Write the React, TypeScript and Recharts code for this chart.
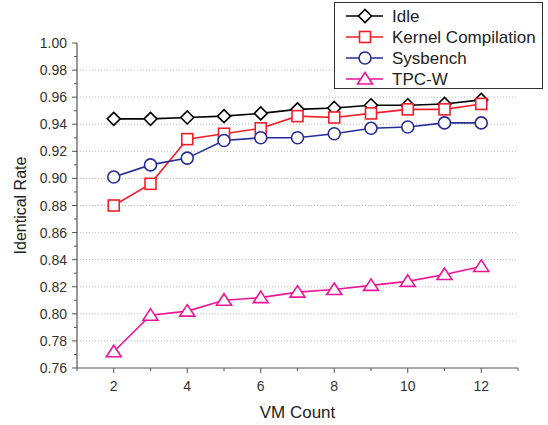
import React from 'react';
import { LineChart, Line, XAxis, YAxis, CartesianGrid, Label } from 'recharts';

const vmCounts = [2, 3, 4, 5, 6, 7, 8, 9, 10, 11, 12];
const idleRate = [0.944, 0.944, 0.945, 0.946, 0.948, 0.951, 0.952, 0.954, 0.954, 0.955, 0.958];
const kernelRate = [0.880, 0.896, 0.929, 0.933, 0.937, 0.946, 0.945, 0.948, 0.951, 0.951, 0.955];
const sysbenchRate = [0.901, 0.910, 0.915, 0.928, 0.930, 0.930, 0.933, 0.937, 0.938, 0.941, 0.941];
const tpcwRate = [0.772, 0.799, 0.802, 0.810, 0.812, 0.816, 0.818, 0.821, 0.824, 0.829, 0.835];

const xTicks = [1, 2, 3, 4, 5, 6, 7, 8, 9, 10, 11, 12, 13];
const yTicks = [0.76, 0.77, 0.78, 0.79, 0.8, 0.81, 0.82, 0.83, 0.84, 0.85, 0.86, 0.87, 0.88, 0.89, 0.9,
  0.91, 0.92, 0.93, 0.94, 0.95, 0.96, 0.97, 0.98, 0.99, 1.0];
const gridValues = [0.78, 0.8, 0.82, 0.84, 0.86, 0.88, 0.9, 0.92, 0.94, 0.96, 0.98];

const series = [
  { key: 'idle', name: 'Idle', color: '#000000', shape: 'diamond' },
  { key: 'kernel', name: 'Kernel Compilation', color: '#f01e28', shape: 'square' },
  { key: 'sysbench', name: 'Sysbench', color: '#262d96', shape: 'circle' },
  { key: 'tpcw', name: 'TPC-W', color: '#ee1496', shape: 'triangle' },
];

const data = vmCounts.map((vm, i) => ({
  vm,
  idle: idleRate[i],
  kernel: kernelRate[i],
  sysbench: sysbenchRate[i],
  tpcw: tpcwRate[i],
}));

const AXIS = '#555';
const FONT = 'Arial, "Liberation Sans", sans-serif';

const Marker = ({ cx, cy, shape, color }: any) => {
  const common = { fill: '#fff', stroke: color, strokeWidth: 1.6 };
  if (shape === 'diamond') {
    const r = 6.5;
    return <polygon points={`${cx},${cy - r} ${cx + r},${cy} ${cx},${cy + r} ${cx - r},${cy}`} {...common} />;
  }
  if (shape === 'square') {
    return <rect x={cx - 5.5} y={cy - 5.5} width={11} height={11} {...common} />;
  }
  if (shape === 'circle') {
    return <circle cx={cx} cy={cy} r={6} {...common} />;
  }
  return <polygon points={`${cx},${cy - 6.5} ${cx + 7.5},${cy + 5} ${cx - 7.5},${cy + 5}`} {...common} />;
};

const dotFor = (shape: string, color: string) => (props: any) =>
  <Marker key={`${shape}-${props.index}`} cx={props.cx} cy={props.cy} shape={shape} color={color} />;

const YTick = ({ x, y, payload }: any) => {
  const major = Math.round(payload.value * 100) % 2 === 0;
  return (
    <g>
      <line x1={x - (major ? 5 : 3)} x2={x} y1={y} y2={y} stroke={AXIS} strokeWidth={1} />
      {major && (
        <text x={x - 10} y={y + 5} textAnchor="end" fontSize={14} fill="#333" fontFamily={FONT}>
          {payload.value.toFixed(2)}
        </text>
      )}
    </g>
  );
};

const XTick = ({ x, y, payload }: any) => {
  const major = payload.value % 2 === 0;
  return (
    <g>
      <line x1={x} x2={x} y1={y} y2={y + (major ? 5 : 3)} stroke={AXIS} strokeWidth={1} />
      {major && (
        <text x={x} y={y + 23} textAnchor="middle" fontSize={14} fill="#333" fontFamily={FONT}>
          {payload.value}
        </text>
      )}
    </g>
  );
};

const LegendBox = () => (
  <div style={{ position: 'absolute', left: 334, top: 2, width: 209, height: 87, border: '1px solid #333',
    background: '#fff', boxSizing: 'border-box' }}>
    <svg width={207} height={85} style={{ display: 'block' }}>
      {series.map((s, i) => {
        const y = 13 + i * 21;
        return (
          <g key={s.key}>
            <line x1={11} x2={48} y1={y} y2={y} stroke={s.color} strokeWidth={1.6} />
            <Marker cx={30} cy={y} shape={s.shape} color={s.color} />
            <text x={57} y={y + 6} fontSize={17} fill="#222" fontFamily={FONT}>{s.name}</text>
          </g>
        );
      })}
    </svg>
  </div>
);

export default function App() {
  return (
    <div style={{ position: 'absolute', left: 0, top: 0, width: 548, height: 425, background: '#fff' }}>
      <LineChart width={548} height={425} data={data} margin={{ top: 43, right: 30, left: 0, bottom: 0 }}>
        <CartesianGrid horizontal vertical={false} horizontalValues={gridValues}
          stroke="#bbb" strokeDasharray="1 2" />
        <XAxis dataKey="vm" type="number" domain={[1, 13]} ticks={xTicks} interval={0}
          height={57} tickSize={0} tickMargin={0} tick={<XTick />} tickLine={false}
          axisLine={{ stroke: AXIS, strokeWidth: 1.2 }} allowDataOverflow>
          <Label content={({ viewBox }: any) => (
            <text x={viewBox.x + viewBox.width / 2} y={viewBox.y + 50} textAnchor="middle"
              fontSize={17} fill="#222" fontFamily={FONT}>VM Count</text>
          )} />
        </XAxis>
        <YAxis type="number" domain={[0.76, 1.0]} ticks={yTicks} interval={0} width={77}
          tickSize={0} tickMargin={0} tick={<YTick />} tickLine={false}
          axisLine={{ stroke: AXIS, strokeWidth: 1.2 }} allowDataOverflow>
          <Label content={({ viewBox }: any) => {
            const cx = viewBox.x + 20;
            const cy = viewBox.y + viewBox.height / 2;
            return (
              <text x={cx} y={cy} transform={`rotate(-90 ${cx} ${cy})`} textAnchor="middle"
                dominantBaseline="central" fontSize={16} fill="#222" fontFamily={FONT}>Identical Rate</text>
            );
          }} />
        </YAxis>
        {series.map((s) => (
          <Line key={s.key} dataKey={s.key} name={s.name} stroke={s.color} strokeWidth={1.6}
            dot={dotFor(s.shape, s.color)} activeDot={false} isAnimationActive={false} />
        ))}
      </LineChart>
      <LegendBox />
    </div>
  );
}
